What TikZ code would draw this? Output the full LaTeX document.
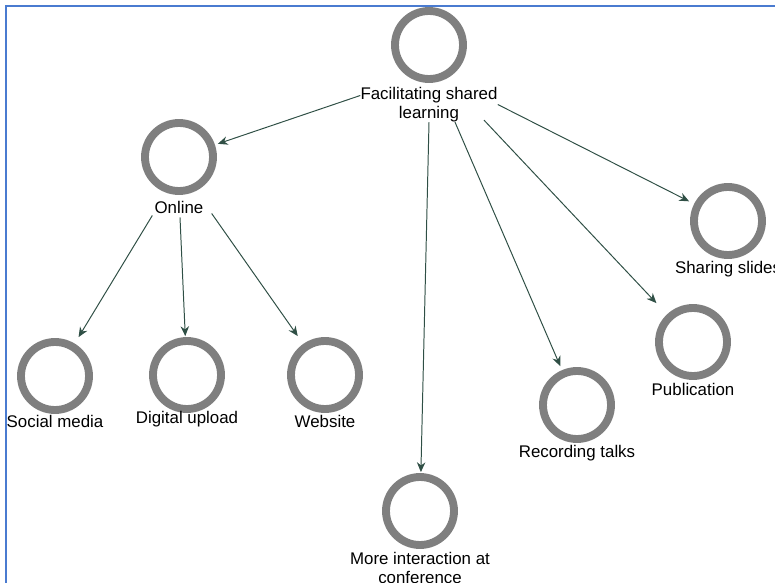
\documentclass[tikz,border=0pt]{standalone}
\usepackage{fontspec}
\setmainfont{Liberation Sans}
\usetikzlibrary{arrows.meta,calc}
\definecolor{mapRing}{HTML}{7F7F7F}
\definecolor{mapArrow}{HTML}{2F4F45}
\definecolor{mapFrame}{HTML}{4A7BD0}
\tikzset{
  ringnode/.style={rectangle,minimum size=1.93cm,inner sep=0pt,
    path picture={\draw[mapRing,line width=5.6pt] (path picture bounding box.center) circle[radius=0.85cm];}},
  ringlabel/.style={font=\fontsize{12}{13.5}\selectfont,inner sep=0pt,align=center,text=black},
  arrow/.style={-{Stealth[length=7pt,width=6pt]},draw=mapArrow,line width=0.7pt}
}

\begin{document}
\begin{tikzpicture}[x=0.025cm,y=-0.025cm]
  \useasboundingbox (0,0) rectangle (775,583);
  \draw[mapFrame,line width=2pt] (6,583) -- (6,6) -- (775,6);
  % rings
  \node[ringnode] (share) at (429,45) {};
  \node[ringnode] (online) at (179,157) {};
  \node[ringnode] (social) at (55,376) {};
  \node[ringnode] (digital) at (187,375) {};
  \node[ringnode] (website) at (325,375) {};
  \node[ringnode] (slides) at (728,221) {};
  \node[ringnode] (publication) at (693,342) {};
  \node[ringnode] (recording) at (577,405) {};
  \node[ringnode] (more) at (420,511) {};
  % labels
  \node[ringlabel] (sharelbl) at (429,104.5) {Facilitating shared\\learning};
  \node[ringlabel] (onlinelbl) at (179,207) {Online};
  \node[ringlabel] (sociallbl) at (55,421) {Social media};
  \node[ringlabel] (digitallbl) at (187,419) {Digital upload};
  \node[ringlabel] (websitelbl) at (325,421) {Website};
  \node[ringlabel] (slideslbl) at (728,269) {Sharing slides};
  \node[ringlabel] (publicationlbl) at (693,389) {Publication};
  \node[ringlabel] (recordinglbl) at (577,453) {Recording talks};
  \node[ringlabel] (morelbl) at (420,568) {More interaction at\\conference};
  % connectors
  \draw[arrow] ($(sharelbl.west)+(0,-9)$) -- (online);
  \draw[arrow] (sharelbl.south) -- (more);
  \draw[arrow] ($(sharelbl.south)+(26,0)$) -- (recording);
  \draw[arrow] ($(sharelbl.south)+(55,-2)$) -- (publication);
  \draw[arrow] (sharelbl.east) -- (slides);
  \draw[arrow] ($(onlinelbl.south west)+(-2,2)$) -- (social);
  \draw[arrow] ($(onlinelbl.south)+(1,4)$) -- (digital);
  \draw[arrow] ($(onlinelbl.south east)+(8,0)$) -- (website);
\end{tikzpicture}
\end{document}
